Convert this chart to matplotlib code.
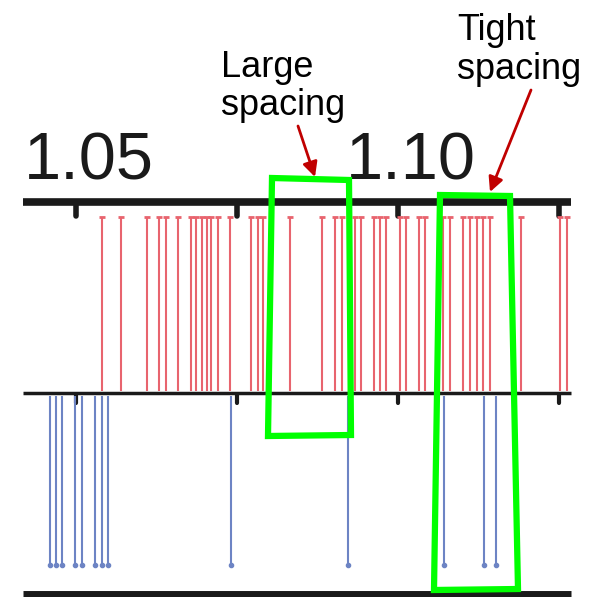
import matplotlib
matplotlib.use("Agg")
import matplotlib.pyplot as plt
from matplotlib.patches import Polygon

# ---- data (m/z positions) ----
red_peaks = [1.0540, 1.0570, 1.0610, 1.0629, 1.0640, 1.0659, 1.0679, 1.0687, 1.0695,
             1.0703, 1.0710, 1.0720, 1.0739, 1.0772, 1.0782, 1.0791, 1.0832, 1.0882,
             1.0902, 1.0913, 1.0933, 1.0943, 1.0962, 1.0972, 1.0982, 1.1003, 1.1012,
             1.1032, 1.1042, 1.1070, 1.1081, 1.1101, 1.1112, 1.1122, 1.1132, 1.1143,
             1.1191, 1.1252, 1.1262]
blue_peaks = [1.0460, 1.0469, 1.0479, 1.0499, 1.0509, 1.0530, 1.0540, 1.0550,
              1.0740, 1.0922, 1.1071, 1.1133, 1.1152]
tick_positions = [1.05, 1.075, 1.10, 1.125]
tick_labels = ["1.05", "1.10"]
tick_label_positions = [1.05, 1.10]

W, H = 589, 597
fig = plt.figure(figsize=(W / 100, H / 100), dpi=100)
ax = fig.add_axes([0, 0, 1, 1])
# x scale: 1.05 -> px 76, 1.10 -> px 398
ppx = (398 - 76) / 0.05
x0 = 1.05 - 76 / ppx
x1 = 1.05 + (W - 76) / ppx
ax.set_xlim(x0, x1)
ax.set_ylim(H, 0)
ax.axis("off")

def px(v):
    return x0 + v / ppx

# axis lines
xl, xr = px(23), px(571)
ax.plot([xl, xr], [202, 202], color="#1a1a1a", lw=5.5, solid_capstyle="butt")
ax.plot([xl, xr], [393, 393], color="#1a1a1a", lw=2.5, solid_capstyle="butt")
ax.plot([xl, xr], [594, 594], color="#1a1a1a", lw=5, solid_capstyle="butt")
for t in tick_positions:
    ax.plot([t, t], [204, 216], color="#1a1a1a", lw=4, solid_capstyle="round")
    ax.plot([t, t], [395, 403], color="#1a1a1a", lw=3, solid_capstyle="round")

# tick labels
for t, lab in zip(tick_label_positions, tick_labels):
    ax.annotate(lab, xy=(t, 180), xytext=(9, 0), textcoords="offset points",
                ha="center", va="baseline", fontsize=48,
                family="Liberation Sans", color="#1a1a1a")

# red sticks
ax.vlines(red_peaks, 217, 391, color="#e8646e", lw=1.5)
ax.plot(red_peaks, [217] * len(red_peaks), ls="none", marker="_", ms=5,
        mew=2, color="#e8646e")
# blue sticks
ax.vlines(blue_peaks, 396, 565, color="#6d84c4", lw=1.5)
ax.plot(blue_peaks, [565] * len(blue_peaks), ls="none", marker="o", ms=3,
        color="#6d84c4")

# overlay annotations in pixel coordinates
ov = fig.add_axes([0, 0, 1, 1])
ov.set_xlim(0, W)
ov.set_ylim(H, 0)
ov.axis("off")
ov.patch.set_alpha(0)

green = "#00ff00"
ov.add_patch(Polygon([(272, 178), (349, 180), (351, 435), (268, 436)],
                     closed=True, fill=False, edgecolor=green, lw=4.5))
ov.add_patch(Polygon([(440, 195), (510, 196), (518, 589), (434, 590)],
                     closed=True, fill=False, edgecolor=green, lw=4.5))

ov.text(221, 77, "Large", fontsize=26, family="Liberation Sans", va="baseline")
ov.text(221, 115, "spacing", fontsize=26, family="Liberation Sans", va="baseline")
ov.text(457, 40, "Tight", fontsize=26, family="Liberation Sans", va="baseline")
ov.text(457, 79, "spacing", fontsize=26, family="Liberation Sans", va="baseline")

arrow = dict(arrowstyle="-|>", color="#c00000", lw=2, mutation_scale=22,
             shrinkA=0, shrinkB=0)
ov.annotate("", xy=(315, 177), xytext=(298, 126), arrowprops=arrow)
ov.annotate("", xy=(490, 192), xytext=(531, 90), arrowprops=arrow)

fig.savefig("out.png", dpi=100)
